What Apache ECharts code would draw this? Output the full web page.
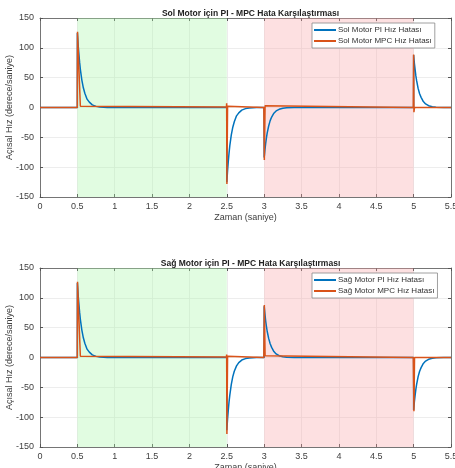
<!DOCTYPE html>
<html><head><meta charset="utf-8">
<script src="https://cdn.jsdelivr.net/npm/echarts@6/dist/echarts.min.js"></script>
<style>html,body{margin:0;padding:0;background:#fff}#c{width:455px;height:468px}</style>
</head><body><div id="c"></div>
<script>
// ---- data (time in s, error in deg/s) ----
const xTicks = [0,0.5,1,1.5,2,2.5,3,3.5,4,4.5,5,5.5];
const yTicks = [-150,-100,-50,0,50,100,150];
const titles = ['Sol Motor için PI - MPC Hata Karşılaştırması','Sağ Motor için PI - MPC Hata Karşılaştırması'];
const legendSol = ['Sol Motor PI Hız Hatası','Sol Motor MPC Hız Hatası'];
const legendSag = ['Sağ Motor PI Hız Hatası','Sağ Motor MPC Hız Hatası'];
const greenZone = [0.5, 2.5];
const redZone = [3, 5];

const solPI_t = [0,0.4999,0.5,0.51,0.52,0.53,0.54,0.56,0.58,0.60,0.63,0.66,0.70,0.75,0.80,0.90,
                 2.4999,2.5,2.51,2.52,2.53,2.54,2.56,2.58,2.60,2.63,2.66,2.70,2.75,2.80,2.90,
                 2.9999,3.0,3.01,3.02,3.03,3.04,3.06,3.08,3.10,3.13,3.16,3.20,3.25,3.30,3.40,
                 4.9999,5.0,5.01,5.02,5.03,5.04,5.06,5.08,5.10,5.13,5.16,5.20,5.25,5.30,5.40,5.5];
const solPI_v = [0,0,125,106,90,76,64,46,33,24,14,9,4.4,1.9,0.8,0,
                 0,-125,-106,-90,-76,-64,-46,-33,-24,-14,-9,-4.4,-1.9,-0.8,0,
                 0,-84,-71,-60,-51,-43,-31,-22,-16,-9.6,-5.8,-3,-1.3,-0.5,0,
                 0,88,74,63,53,45,32,23,17,10,6,3,1.3,0.5,0,0];
const solMPC_t = [0,0.499,0.502,0.54,0.545,2.495,2.498,2.501,2.51,2.52,2.995,3.0,3.002,3.012,3.02,4.995,5.0,5.004,5.012,5.02,5.5];
const solMPC_v = [0,0,127,2,1,1,7,-128,2,0,0,0,-88,3,0,0,89,-8,0,0,0];

const sagPI_t = solPI_t;
const sagPI_v = [0,0,125,106,90,76,64,46,33,24,14,9,4.4,1.9,0.8,0,
                 0,-122,-103,-88,-74,-63,-45,-32,-23,-14,-8.5,-4.3,-1.8,-0.8,0,
                 0,86,73,61,52,44,32,23,17,10,6,3,1.3,0.5,0,
                 0,-88,-74,-63,-53,-45,-32,-23,-17,-10,-6,-3,-1.3,-0.5,0,0];
const sagMPC_t = [0,0.499,0.502,0.54,0.545,2.495,2.498,2.501,2.51,2.52,2.995,3.0,3.002,3.012,3.02,4.995,5.0,5.004,5.012,5.02,5.5];
const sagMPC_v = [0,0,127,2,1,1,5,-128,2,0,0,0,88,3,1,0,3,-90,0,0,0];

const zip = (t,v) => t.map((x,i)=>[x,v[i]]);
const BLUE = '#0072BD', ORANGE = '#D95319';
const FONT = 'Liberation Sans';
const grids = [{left:40, top:18, width:411, height:179, containLabel:false, outerBoundsMode:'none'},
               {left:40, top:268, width:411, height:179, containLabel:false, outerBoundsMode:'none'}];

const xAxis = [], yAxis = [], series = [], title = [], legend = [];
grids.forEach((g,i)=>{
  const common = {min:0,max:5.5,interval:0.5,gridIndex:i};
  xAxis.push(Object.assign({type:'value', name:'Zaman (saniye)', nameLocation:'middle', nameGap:16, nameMoveOverlap:false,
    nameTextStyle:{fontFamily:FONT,fontSize:9,color:'#404040'},
    axisLine:{onZero:false,lineStyle:{color:'#555',width:0.8}}, axisTick:{inside:true,length:3,lineStyle:{color:'#555'}},
    axisLabel:{fontFamily:FONT,fontSize:9,color:'#404040',margin:5,formatter:v=>String(v)},
    splitLine:{show:true,lineStyle:{color:'#e8e8e8',width:0.8}}}, common));
  xAxis.push(Object.assign({type:'value', position:'top', axisLine:{onZero:false,lineStyle:{color:'#555',width:0.8}},
    axisTick:{inside:true,length:3,lineStyle:{color:'#555'}}, axisLabel:{show:false}, splitLine:{show:false}}, common));
  const ycommon = {min:-150,max:150,interval:50,gridIndex:i};
  yAxis.push(Object.assign({type:'value', name:'Açısal Hız (derece/saniye)', nameLocation:'middle', nameGap:26, nameMoveOverlap:false,
    nameTextStyle:{fontFamily:FONT,fontSize:9,color:'#404040'},
    axisLine:{show:true,onZero:false,lineStyle:{color:'#555',width:0.8}}, axisTick:{show:true,inside:true,length:3,lineStyle:{color:'#555'}},
    axisLabel:{fontFamily:FONT,fontSize:9,color:'#404040',margin:6},
    splitLine:{show:true,lineStyle:{color:'#e8e8e8',width:0.8}}}, ycommon));
  yAxis.push(Object.assign({type:'value', position:'right', axisLine:{show:true,onZero:false,lineStyle:{color:'#555',width:0.8}},
    axisTick:{show:true,inside:true,length:3,lineStyle:{color:'#555'}}, axisLabel:{show:false}, splitLine:{show:false}}, ycommon));
  title.push({text:titles[i], left:g.left+g.width/2, top:g.top-14, textAlign:'center',
    textStyle:{fontFamily:FONT,fontSize:8.5,fontWeight:'bold',color:'#222'}});
  const names = i===0?legendSol:legendSag;
  legend.push({data:names, orient:'vertical', left:312, top:g.top+5, itemWidth:22, itemHeight:2, icon:'rect',
    itemGap:3, padding:[3,3,3,2], backgroundColor:'#fff', borderColor:'#888', borderWidth:0.8, borderRadius:0,
    textStyle:{fontFamily:FONT,fontSize:8,color:'#333',padding:[0,0,0,-3]}});
  const piT = i===0?solPI_t:sagPI_t, piV = i===0?solPI_v:sagPI_v;
  const mT = i===0?solMPC_t:sagMPC_t, mV = i===0?solMPC_v:sagMPC_v;
  series.push({type:'line', name:names[0], xAxisIndex:2*i, yAxisIndex:2*i, data:zip(piT,piV), showSymbol:false, symbol:'none',
    lineStyle:{color:BLUE,width:1.5}, itemStyle:{color:BLUE}, z:3, animation:false,
    markArea:{silent:true, data:[
      [{xAxis:greenZone[0], yAxis:-150, itemStyle:{color:'rgba(170,245,170,0.35)'}},{xAxis:greenZone[1], yAxis:150}],
      [{xAxis:redZone[0], yAxis:-150, itemStyle:{color:'rgba(250,160,165,0.33)'}},{xAxis:redZone[1], yAxis:150}]
    ]}});
  series.push({type:'line', name:names[1], xAxisIndex:2*i, yAxisIndex:2*i, data:zip(mT,mV), showSymbol:false, symbol:'none',
    lineStyle:{color:ORANGE,width:1.5}, itemStyle:{color:ORANGE}, z:4, animation:false});
});

const chart = echarts.init(document.getElementById('c'), null, {renderer:'canvas'});
chart.setOption({animation:false, backgroundColor:'#fff', grid:grids, xAxis, yAxis, series, title, legend});
</script></body></html>
